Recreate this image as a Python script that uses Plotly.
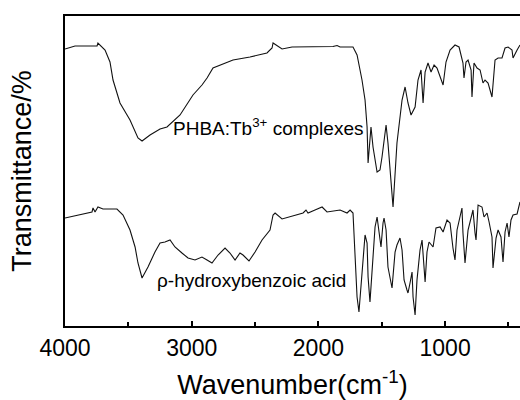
import plotly.graph_objects as go

# PHBA:Tb3+ complexes (upper trace)
wn_complex = [4000, 3921, 3747, 3740, 3684, 3645, 3621, 3566, 3487, 3424, 3392, 3329, 3250, 3195,
              3092, 2990, 2919, 2879, 2832, 2674, 2540, 2477, 2406, 2366, 2358, 2287, 2208, 1885,
              1853, 1829, 1727, 1695, 1656, 1632, 1616, 1608, 1585, 1569, 1537, 1514, 1498, 1466,
              1451, 1411, 1380, 1340, 1316, 1293, 1269, 1237, 1214, 1190, 1182, 1174, 1158, 1135,
              1111, 1087, 1064, 1016, 993, 961, 922, 890, 859, 851, 835, 819, 795, 788, 772, 748,
              724, 701, 685, 661, 630, 606, 582, 551, 527, 503, 472, 464, 432, 409]
t_complex = [277, 280, 280, 283, 276, 264, 246, 223, 206, 188, 185, 191, 197, 199,
             211, 231, 241, 248, 258, 266, 269, 271, 273, 278, 283, 277, 279, 279.5,
             280.5, 279, 279, 271, 246, 226, 199, 163, 199, 179, 154, 156, 169, 201,
             183, 119, 183, 226, 239, 223, 211, 219, 246, 256, 236, 223, 254, 263,
             254, 261, 258, 241, 264, 276, 281, 279, 263, 248, 264, 266, 256, 229, 263, 258,
             256, 243, 246, 243, 229, 266, 268, 268, 278, 279, 276, 268, 276, 281]

# p-hydroxybenzoic acid (lower trace)
wn_acid = [4000, 3882, 3787, 3779, 3763, 3740, 3700, 3590, 3542, 3487, 3447, 3424, 3392, 3345,
           3290, 3250, 3211, 3171, 3132, 3077, 3029, 2974, 2919, 2879, 2840, 2792, 2737, 2698,
           2658, 2619, 2595, 2548, 2500, 2445, 2382, 2358, 2342, 2287, 2200, 2121, 2098, 2082,
           2027, 1971, 1932, 1885, 1829, 1774, 1750, 1727, 1711, 1695, 1680, 1656, 1632, 1616,
           1608, 1593, 1569, 1553, 1537, 1522, 1506, 1490, 1482, 1466, 1451, 1419, 1395, 1380,
           1356, 1340, 1324, 1301, 1293, 1277, 1261, 1253, 1237, 1222, 1198, 1182, 1166, 1158,
           1143, 1127, 1095, 1072, 1040, 1016, 985, 961, 938, 922, 906, 882, 867, 859, 843, 819,
           788, 780, 764, 756, 740, 709, 693, 669, 653, 630, 622, 598, 582, 559, 543, 527, 511,
           496, 480, 464, 432, 409]
t_acid = [108, 111, 114, 118, 114, 119, 117, 117, 111, 96, 79, 63, 48, 59,
          74, 83, 84, 86, 79, 73, 68, 66, 69, 66, 63, 71, 78, 73,
          66, 73, 71, 65, 74, 86, 96, 111, 113, 107, 110, 113, 116, 113,
          116, 119, 114, 115, 116, 113, 116, 113, 69, 29, 14, 53, 91, 83,
          49, 24, 76, 99, 109, 93, 79, 103, 108, 96, 59, 38, 74, 81,
          88, 76, 46, 36, 33, 43, 54, 29, 11, 46, 76, 86, 63, 44,
          74, 84, 79, 98, 99, 94, 106, 103, 78, 66, 96, 111, 118, 93, 63, 96,
          113, 116, 93, 86, 121, 119, 109, 113, 104, 89, 58, 88, 96, 89, 64, 94, 103,
          89, 106, 111, 112, 124]

x_ticks = [4000, 3000, 2000, 1000]
label_complex = "PHBA:Tb<sup>3+</sup> complexes"
label_acid = "ρ-hydroxybenzoic acid"

FONT = "Liberation Sans, Arial, sans-serif"

fig = go.Figure()
fig.add_trace(go.Scatter(x=wn_complex, y=t_complex, mode="lines",
                         line=dict(color="#111111", width=1.1), showlegend=False))
fig.add_trace(go.Scatter(x=wn_acid, y=t_acid, mode="lines",
                         line=dict(color="#111111", width=1.1), showlegend=False))

fig.add_annotation(x=3160, y=199, text=label_complex, showarrow=False, xanchor="left",
                   yanchor="middle", font=dict(family=FONT, size=19, color="black"))
fig.add_annotation(x=3290, y=46, text=label_acid, showarrow=False, xanchor="left",
                   yanchor="middle", font=dict(family=FONT, size=19, color="black"))

fig.update_layout(
    width=520, height=400,
    margin=dict(l=65, r=0, t=16, b=74),
    paper_bgcolor="white", plot_bgcolor="white",
    font=dict(family=FONT, color="black"),
    xaxis=dict(
        range=[4000, 409], tickvals=x_ticks, ticktext=[str(v) for v in x_ticks],
        showgrid=False, zeroline=False,
        showline=True, linecolor="black", linewidth=2, mirror=True,
        ticks="inside", ticklen=5, tickwidth=1.5, tickcolor="black",
        tickfont=dict(size=23, family=FONT),
        minor=dict(dtick=500, tick0=0, ticks="inside", ticklen=4, tickwidth=1.5, tickcolor="black"),
        title=dict(text="Wavenumber(cm<sup>-1</sup>)", font=dict(size=27, family=FONT), standoff=18),
    ),
    yaxis=dict(
        range=[0, 310], showticklabels=False, ticks="",
        showgrid=False, zeroline=False,
        showline=True, linecolor="black", linewidth=2,
        title=dict(text="Transmittance/%", font=dict(size=27, family=FONT), standoff=24),
    ),
)

fig.write_html("out.html")
